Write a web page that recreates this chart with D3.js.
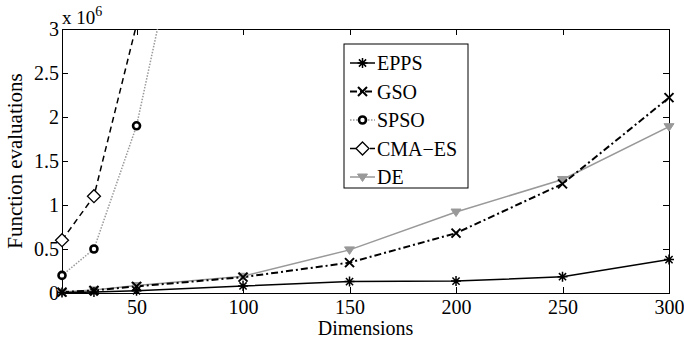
<!DOCTYPE html>
<html lang="en">
    <head>
        <meta charset="utf-8">
        <title>Function evaluations</title>
        <script type="text/javascript" src="https://cdn.jsdelivr.net/npm/d3@7/dist/d3.min.js"></script>
        <style type="text/css">
        body { margin: 0; background: #fff; }
        text { font-family: "Liberation Serif", "Times New Roman", serif; fill: #000; }
        .axis path, .axis line { stroke: #000; stroke-width: 1; shape-rendering: crispEdges; }
        .axis text { font-size: 20px; }
        </style>
    </head>
    <body>
        <script>
        // dimensions tested (x axis)
        var dims = [15, 30, 50, 100, 150, 200, 250, 300];
        var dimsShort = [15, 30, 50];
        var dimsSpso = [15, 30, 50, 100];

        // function evaluations, in units of 10^6
        var epps = [0.005, 0.01, 0.025, 0.08, 0.13, 0.135, 0.185, 0.38];
        var gso = [0.01, 0.03, 0.075, 0.18, 0.345, 0.68, 1.24, 2.22];
        var de = [0.01, 0.035, 0.085, 0.19, 0.49, 0.92, 1.29, 1.89];
        var spso = [0.2, 0.5, 1.9, 7.5];
        var cmaes = [0.6, 1.1, 3.05];

        var xTicks = [50, 100, 150, 200, 250, 300];
        var yTicks = [0, 0.5, 1, 1.5, 2, 2.5, 3];
        var seriesNames = ["EPPS", "GSO", "SPSO", "CMA\u2212ES", "DE"];

        var w = 684, h = 340;
        var m = {left: 62, right: 15, top: 29, bottom: 47};

        var xScale = d3.scaleLinear().domain([15, 300]).range([m.left, w - m.right]);
        var yScale = d3.scaleLinear().domain([0, 3]).range([h - m.bottom, m.top]);

        var svg = d3.select("body").append("svg")
            .attr("width", w)
            .attr("height", h);

        svg.append("clipPath").attr("id", "clip")
          .append("rect")
            .attr("x", m.left).attr("y", m.top)
            .attr("width", w - m.left - m.right)
            .attr("height", h - m.top - m.bottom);

        // axes, matlab style: ticks inside on all four sides
        var tl = 6;
        svg.append("g").attr("class", "axis")
            .attr("transform", "translate(0," + (h - m.bottom) + ")")
            .call(d3.axisBottom(xScale).tickValues(xTicks).tickSizeInner(-tl).tickSizeOuter(0).tickPadding(7));
        svg.append("g").attr("class", "axis")
            .attr("transform", "translate(0," + m.top + ")")
            .call(d3.axisTop(xScale).tickValues(xTicks).tickSizeInner(-tl).tickSizeOuter(0).tickFormat(""));
        svg.append("g").attr("class", "axis")
            .attr("transform", "translate(" + m.left + ",0)")
            .call(d3.axisLeft(yScale).tickValues(yTicks).tickSizeInner(-tl).tickSizeOuter(0).tickPadding(3).tickFormat(d3.format("")));
        svg.append("g").attr("class", "axis")
            .attr("transform", "translate(" + (w - m.right) + ",0)")
            .call(d3.axisRight(yScale).tickValues(yTicks).tickSizeInner(-tl).tickSizeOuter(0).tickFormat(""));

        // marker shapes
        function drawMarker(g, type, x, y) {
          if (type == "star") {
            var r = 5;
            g.append("path").attr("d",
              "M" + (x - r) + "," + y + "H" + (x + r) +
              "M" + x + "," + (y - r) + "V" + (y + r) +
              "M" + (x - 3.6) + "," + (y - 3.6) + "L" + (x + 3.6) + "," + (y + 3.6) +
              "M" + (x - 3.6) + "," + (y + 3.6) + "L" + (x + 3.6) + "," + (y - 3.6))
              .attr("stroke", "#000").attr("stroke-width", 1.5).attr("fill", "none");
          } else if (type == "x") {
            var r = 4.5;
            g.append("path").attr("d",
              "M" + (x - r) + "," + (y - r) + "L" + (x + r) + "," + (y + r) +
              "M" + (x - r) + "," + (y + r) + "L" + (x + r) + "," + (y - r))
              .attr("stroke", "#000").attr("stroke-width", 2).attr("fill", "none");
          } else if (type == "circle") {
            g.append("circle").attr("cx", x).attr("cy", y).attr("r", 3.5)
              .attr("stroke", "#000").attr("stroke-width", 2.6).attr("fill", "#fff");
          } else if (type == "diamond") {
            var r = 6.5;
            g.append("path").attr("d",
              "M" + x + "," + (y - r) + "L" + (x + r) + "," + y + "L" + x + "," + (y + r) + "L" + (x - r) + "," + y + "Z")
              .attr("stroke", "#000").attr("stroke-width", 1.3).attr("fill", "#fff");
          } else if (type == "tri") {
            var r = 5;
            g.append("path").attr("d",
              "M" + (x - r) + "," + (y - r * 0.6) + "L" + (x + r) + "," + (y - r * 0.6) + "L" + x + "," + (y + r * 0.9) + "Z")
              .attr("stroke", "#999").attr("stroke-width", 1).attr("fill", "#999");
          }
        }

        var series = [
          {name: seriesNames[0], x: dims, y: epps, color: "#000", width: 1.5, dash: null, marker: "star"},
          {name: seriesNames[1], x: dims, y: gso, color: "#000", width: 2, dash: "7,3,2,3", marker: "x"},
          {name: seriesNames[2], x: dimsSpso, y: spso, color: "#999", width: 1.5, dash: "1.5,1.5", marker: "circle"},
          {name: seriesNames[3], x: dimsShort, y: cmaes, color: "#000", width: 1.5, dash: "6,4", marker: "diamond"},
          {name: seriesNames[4], x: dims, y: de, color: "#999", width: 1.5, dash: null, marker: "tri"}
        ];

        var line = d3.line()
          .x(function (d) { return xScale(d[0]); })
          .y(function (d) { return yScale(d[1]); });

        var plot = svg.append("g").attr("clip-path", "url(#clip)");

        // draw back to front so EPPS sits on top
        series.slice().reverse().forEach(function (s) {
          var pts = d3.zip(s.x, s.y);
          plot.append("path")
            .datum(pts)
            .attr("d", line)
            .attr("fill", "none")
            .attr("stroke", s.color)
            .attr("stroke-width", s.width)
            .attr("stroke-dasharray", s.dash);
        });
        series.slice().reverse().forEach(function (s) {
          var g = svg.append("g");
          d3.zip(s.x, s.y).forEach(function (d) {
            if (d[1] <= 3) drawMarker(g, s.marker, xScale(d[0]), yScale(d[1]));
          });
        });

        // axis labels
        svg.append("text")
            .attr("x", (m.left + w - m.right) / 2)
            .attr("y", 335)
            .attr("text-anchor", "middle")
            .style("font-size", "20px")
            .text("Dimensions");
        svg.append("text")
            .attr("transform", "translate(22," + ((m.top + h - m.bottom) / 2) + ") rotate(-90)")
            .attr("text-anchor", "middle")
            .style("font-size", "21px")
            .text("Function evaluations");

        // exponent label
        var ex = svg.append("text").attr("x", m.left).attr("y", 24).style("font-size", "19px");
        ex.append("tspan").text("x 10");
        ex.append("tspan").attr("dy", -8).style("font-size", "14px").text("6");

        // legend
        var lg = svg.append("g").attr("transform", "translate(344,44)");
        lg.append("rect").attr("width", 124).attr("height", 144)
            .attr("fill", "#fff").attr("stroke", "#000").attr("stroke-width", 1);
        series.forEach(function (s, i) {
          var yy = 19 + i * 28.5;
          lg.append("line")
            .attr("x1", 6).attr("x2", 31).attr("y1", yy).attr("y2", yy)
            .attr("stroke", s.color).attr("stroke-width", s.width)
            .attr("stroke-dasharray", s.dash);
          drawMarker(lg, s.marker, 18.5, yy);
          lg.append("text")
            .attr("x", 33).attr("y", yy + 7)
            .style("font-size", "20px")
            .text(s.name);
        });
        </script>
    </body>
</html>
